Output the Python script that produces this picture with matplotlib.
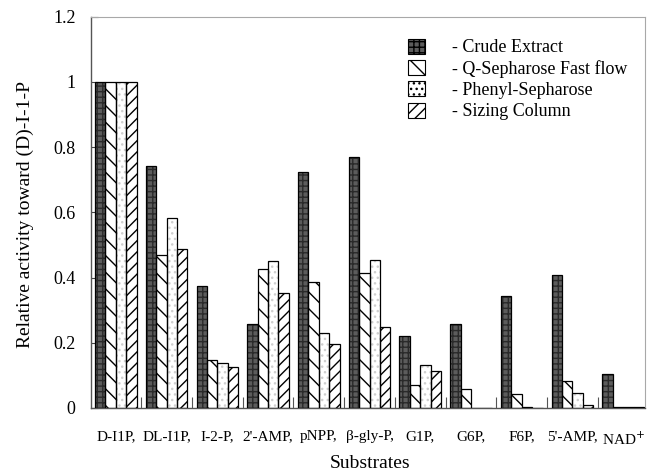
import numpy as np
import matplotlib
matplotlib.use("Agg")
import matplotlib.pyplot as plt
from matplotlib.patches import Patch

# Relative activity of each purification step against the substrate panel
substrates = ["D-I1P,", "DL-I1P,", "I-2-P,", "2'-AMP,", "pNPP,", "\u03b2-gly-P,",
              "G1P,", "G6P,", "F6P,", "5'-AMP,", "NAD$^{+}$"]
crude_extract = [1.00, 0.742, 0.374, 0.256, 0.722, 0.768, 0.220, 0.256, 0.342, 0.407, 0.105]
q_sepharose = [1.00, 0.468, 0.148, 0.427, 0.387, 0.415, 0.070, 0.057, 0.044, 0.082, 0.003]
phenyl_sepharose = [1.00, 0.583, 0.137, 0.451, 0.231, 0.455, 0.131, 0.0, 0.004, 0.047, 0.003]
sizing_column = [1.00, 0.486, 0.125, 0.353, 0.196, 0.249, 0.114, 0.0, 0.0, 0.008, 0.003]

series_labels = ["- Crude Extract", "- Q-Sepharose Fast flow",
                 "- Phenyl-Sepharose", "- Sizing Column"]
yticks = [0, 0.2, 0.4, 0.6, 0.8, 1.0, 1.2]
ytick_labels = ["0", "0.2", "0.4", "0.6", "0.8", "1", "1.2"]

plt.rcParams["font.family"] = ["Liberation Serif", "DejaVu Serif"]
plt.rcParams["hatch.linewidth"] = 1.0

# (face colour, hatch, hatch colour) per series
styles = [
    ("#5c5c5c", "+++", "#2a2a2a"),
    ("white", "\\\\", "black"),
    ("white", "...", "#cfcfcf"),
    ("white", "///", "black"),
]

fig = plt.figure(figsize=(6.48, 4.74), dpi=100)
ax = fig.add_axes([91 / 648, 1 - 408 / 474, 554 / 648, 391.5 / 474])

x = np.arange(len(substrates))
width = 0.205
offsets = [-1.5 * width, -0.5 * width, 0.5 * width, 1.5 * width]
all_series = [crude_extract, q_sepharose, phenyl_sepharose, sizing_column]

for vals, off, (fc, hatch, hc) in zip(all_series, offsets, styles):
    # fill + hatch first, then a black outline on top
    ax.bar(x + off, vals, width, facecolor=fc, edgecolor=hc, hatch=hatch,
           linewidth=0, zorder=2)
    ax.bar(x + off, vals, width, fill=False, edgecolor="black",
           linewidth=0.9, zorder=3)

ax.set_xlim(-0.49, 10.43)
ax.set_ylim(0, 1.2)
ax.set_yticks(yticks)
ax.set_yticklabels(ytick_labels)
ax.set_xticks(x)
ax.set_xticklabels(substrates)
ax.set_xticks(x[:-1] + 0.5, minor=True)

ax.tick_params(axis="y", direction="in", length=5, width=0.8, pad=11,
               labelsize=13, color="#444444")
ax.tick_params(axis="x", which="major", length=0, pad=16, labelsize=11)
ax.tick_params(axis="x", which="minor", direction="in", length=8, width=0.8,
               color="#555555")

for side in ["left", "bottom"]:
    ax.spines[side].set_color("#555555")
    ax.spines[side].set_linewidth(1.0)
for side in ["top", "right"]:
    ax.spines[side].set_color("#a8a8a8")
    ax.spines[side].set_linewidth(0.8)

handles = []
for fc, hatch, hc in styles:
    handles.append(Patch(facecolor=fc, edgecolor="black", hatch=hatch,
                         linewidth=0.8))
leg = ax.legend(handles, series_labels, loc="upper left",
                bbox_to_anchor=(0.56, 0.962), frameon=False, fontsize=13,
                handlelength=0.9, handleheight=0.9, handletextpad=1.5,
                labelspacing=0.2, borderaxespad=0)

fig.text(25 / 648, 1 - 215 / 474, "Relative activity toward (D)-I-1-P",
         rotation=90, ha="center", va="center", fontsize=14)
fig.text(370 / 648, 1 - 463 / 474, "Substrates", ha="center", va="center",
         fontsize=14)

fig.savefig("out.png", dpi=100)
